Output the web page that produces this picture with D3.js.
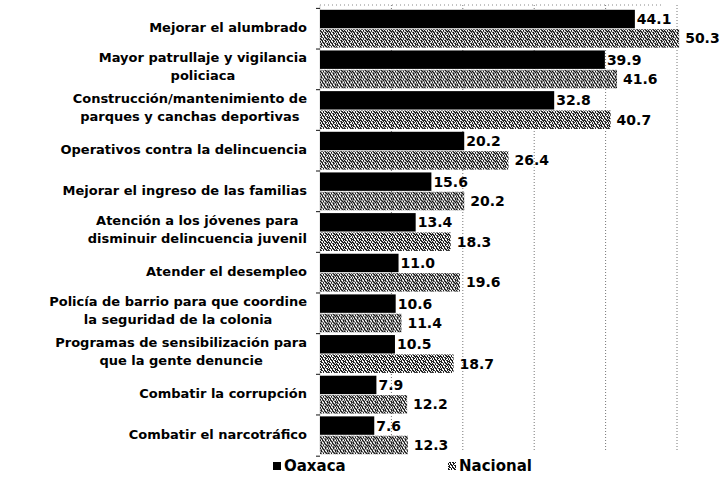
<!DOCTYPE html>
<html>
<head>
<meta charset="utf-8">
<script src="https://cdn.jsdelivr.net/npm/d3@7"></script>
<style>
  body { margin: 0; background: #fff; }
  svg { display: block; font-family: "DejaVu Sans", Arial, sans-serif; }
</style>
</head>
<body>
<svg id="chart"></svg>
<script>
// categories (each one split in the lines used in the picture)
const categories = [
  ["Mejorar el alumbrado"],
  ["Mayor patrullaje y vigilancia", "policiaca"],
  ["Construcción/mantenimiento de", "parques y canchas deportivas"],
  ["Operativos contra la delincuencia"],
  ["Mejorar el ingreso de las familias"],
  ["Atención a los jóvenes para", "disminuir delincuencia juvenil"],
  ["Atender el desempleo"],
  ["Policía de barrio para que coordine", "la seguridad de la colonia"],
  ["Programas de sensibilización para", "que la gente denuncie"],
  ["Combatir la corrupción"],
  ["Combatir el narcotráfico"]
];
const oaxaca = [44.1, 39.9, 32.8, 20.2, 15.6, 13.4, 11.0, 10.6, 10.5, 7.9, 7.6];
const nacional = [50.3, 41.6, 40.7, 26.4, 20.2, 18.3, 19.6, 11.4, 18.7, 12.2, 12.3];
const seriesNames = ["Oaxaca", "Nacional"];
const gridTicks = [10, 20, 30, 40, 50];

const width = 720, height = 485;
const svg = d3.select("#chart").attr("width", width).attr("height", height);

// stippled fill for the Nacional bars (8x8 tile, 1 = dark pixel)
const tile = [
  "10110100",
  "01011011",
  "11001001",
  "01101101",
  "10010110",
  "11010011",
  "01101101",
  "10100110"
];
const pat = svg.append("defs").append("pattern")
  .attr("id", "stipple")
  .attr("patternUnits", "userSpaceOnUse")
  .attr("width", 8).attr("height", 8);
pat.append("rect").attr("width", 8).attr("height", 8).attr("fill", "#fff");
tile.forEach((row, r) => {
  row.split("").forEach((c, k) => {
    if (c === "1") pat.append("rect").attr("x", k).attr("y", r).attr("width", 1).attr("height", 1).attr("fill", "#1a1a1a");
  });
});

const x = d3.scaleLinear().domain([0, 50]).range([320, 677]);
const idx = d3.range(categories.length);
const y = d3.scaleBand().domain(idx).range([9, 455]).paddingInner(0.07).paddingOuter(0.02);
const ySub = d3.scaleBand().domain(seriesNames).range([0, y.bandwidth()]).paddingInner(0.05);

// dotted gridlines
svg.append("g").selectAll("line")
  .data(gridTicks)
  .join("line")
    .attr("x1", d => x(d)).attr("x2", d => x(d))
    .attr("y1", 5).attr("y2", 452)
    .attr("stroke", "#777")
    .attr("stroke-width", 1)
    .attr("stroke-dasharray", "1,2");

// top dotted border
svg.append("line")
  .attr("x1", x(0)).attr("x2", x(48))
  .attr("y1", 5).attr("y2", 5)
  .attr("stroke", "#888")
  .attr("stroke-dasharray", "1,3");

// left axis with ticks on band boundaries
svg.append("line")
  .attr("x1", x(0)).attr("x2", x(0))
  .attr("y1", 5).attr("y2", 452)
  .attr("stroke", "#bbb").attr("stroke-width", 0.6);
svg.append("g").selectAll("line")
  .data(d3.range(categories.length + 1))
  .join("line")
    .attr("x1", x(0) - 4).attr("x2", x(0))
    .attr("y1", i => i < categories.length ? y(i) - y.step() * y.paddingInner() / 2 : y(i - 1) + y.bandwidth() + 2)
    .attr("y2", i => i < categories.length ? y(i) - y.step() * y.paddingInner() / 2 : y(i - 1) + y.bandwidth() + 2)
    .attr("stroke", "#111");

// bars
const groups = svg.append("g").selectAll("g")
  .data(idx)
  .join("g")
    .attr("transform", i => `translate(0,${y(i)})`);

groups.append("rect")
  .attr("x", x(0))
  .attr("y", ySub("Oaxaca"))
  .attr("width", i => x(oaxaca[i]) - x(0))
  .attr("height", ySub.bandwidth())
  .attr("fill", "#000");

groups.append("rect")
  .attr("x", x(0))
  .attr("y", ySub("Nacional"))
  .attr("width", i => x(nacional[i]) - x(0))
  .attr("height", ySub.bandwidth())
  .attr("fill", "url(#stipple)");

// value labels
groups.append("text")
  .attr("x", i => x(oaxaca[i]) + 2)
  .attr("y", ySub("Oaxaca") + ySub.bandwidth() / 2)
  .attr("dy", "0.36em")
  .attr("font-size", 14).attr("font-weight", "bold")
  .text(i => oaxaca[i].toFixed(1));

groups.append("text")
  .attr("x", i => x(nacional[i]) + 6)
  .attr("y", ySub("Nacional") + ySub.bandwidth() / 2)
  .attr("dy", "0.36em")
  .attr("font-size", 14).attr("font-weight", "bold")
  .text(i => nacional[i].toFixed(1));

// category labels: single lines right aligned, multi lines centred on the widest line
const labelRight = 307;
const lineH = 18;
const labels = svg.append("g").attr("font-size", 13).attr("font-weight", "bold");
idx.forEach(i => {
  const lines = categories[i];
  const cy = y(i) + y.bandwidth() / 2 - (lines.length > 1 ? 3 : 1);
  if (lines.length === 1) {
    labels.append("text").attr("text-anchor", "end")
      .attr("x", labelRight).attr("y", cy).attr("dy", "0.36em").text(lines[0]);
  } else {
    const tmp = labels.selectAll(null).data(lines).join("text")
      .attr("text-anchor", "middle")
      .attr("y", (d, k) => cy + (k - (lines.length - 1) / 2) * lineH)
      .attr("dy", "0.36em")
      .text(d => d);
    const maxW = d3.max(tmp.nodes(), n => n.getComputedTextLength());
    tmp.attr("x", labelRight - maxW / 2);
  }
});

// legend
const legend = svg.append("g").attr("font-size", 15).attr("font-weight", "bold");
const legendX = [273, 448];
seriesNames.forEach((s, k) => {
  legend.append("rect")
    .attr("x", legendX[k]).attr("y", 462)
    .attr("width", 8).attr("height", 8)
    .attr("fill", k === 0 ? "#000" : "url(#stipple)");
  legend.append("text")
    .attr("x", legendX[k] + 11).attr("y", 466)
    .attr("dy", "0.36em")
    .text(s);
});
</script>
</body>
</html>
